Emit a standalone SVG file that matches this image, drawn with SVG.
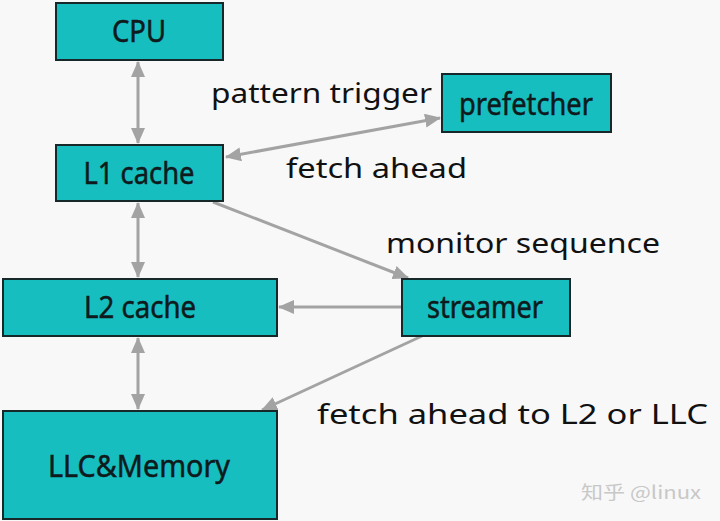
<svg xmlns="http://www.w3.org/2000/svg" width="720" height="521" viewBox="0 0 720 521">
<style>
.box{fill:#17bec0;stroke:#16282a;stroke-width:2}
.bl{font-family:"Noto Sans","Open Sans",sans-serif;font-size:30px;fill:#0e1a1c;stroke:#0e1a1c;stroke-width:0.5;text-anchor:middle}
.tx{font-family:"Noto Sans","Open Sans",sans-serif;font-size:28px;fill:#111}
.c{stroke:#a3a3a3;stroke-width:3;fill:none}
.wm{font-family:"Noto Sans CJK SC","Noto Sans",sans-serif;font-size:18px;fill:#c8c8c8}
</style>
<defs>
<marker id="ah" markerUnits="userSpaceOnUse" markerWidth="16" markerHeight="14" refX="15" refY="7" orient="auto-start-reverse" viewBox="0 0 16 14">
<path d="M0,0 L16,7 L0,14 z" fill="#a3a3a3"/>
</marker>
</defs>
<rect width="720" height="521" fill="#f8f8f8"/>
<g id="connectors">
<line class="c" x1="138" y1="62" x2="138" y2="143" marker-start="url(#ah)" marker-end="url(#ah)"/>
<line class="c" x1="138" y1="203" x2="138" y2="277" marker-start="url(#ah)" marker-end="url(#ah)"/>
<line class="c" x1="138" y1="338" x2="138" y2="409" marker-start="url(#ah)" marker-end="url(#ah)"/>
<line class="c" x1="226" y1="157" x2="440" y2="118" marker-start="url(#ah)" marker-end="url(#ah)"/>
<line class="c" x1="213" y1="202" x2="408" y2="278" marker-end="url(#ah)"/>
<line class="c" x1="402" y1="307" x2="279" y2="307" marker-end="url(#ah)"/>
<line class="c" x1="422" y1="336" x2="262" y2="410" marker-end="url(#ah)"/>
</g>
<g id="cpu"><rect class="box" x="56" y="3" width="167" height="57"/><text class="bl" x="139" y="42" textLength="54" lengthAdjust="spacingAndGlyphs">CPU</text></g>
<g id="l1"><rect class="box" x="56" y="145" width="167" height="56"/><text class="bl" x="139" y="184" textLength="111" lengthAdjust="spacingAndGlyphs">L1 cache</text></g>
<g id="prefetcher"><rect class="box" x="442" y="74" width="169" height="58"/><text class="bl" x="526" y="115" textLength="134" lengthAdjust="spacingAndGlyphs">prefetcher</text></g>
<g id="l2"><rect class="box" x="3" y="279" width="274" height="57"/><text class="bl" x="140" y="318" textLength="112" lengthAdjust="spacingAndGlyphs">L2 cache</text></g>
<g id="streamer"><rect class="box" x="402" y="279" width="168" height="57"/><text class="bl" x="485" y="318" textLength="116" lengthAdjust="spacingAndGlyphs">streamer</text></g>
<g id="llc"><rect class="box" x="3" y="411" width="274" height="108"/><text class="bl" x="139" y="477" textLength="182" lengthAdjust="spacingAndGlyphs">LLC&amp;Memory</text></g>
<text class="tx" x="211" y="103" textLength="221" lengthAdjust="spacingAndGlyphs">pattern trigger</text>
<text class="tx" x="286" y="178" textLength="181" lengthAdjust="spacingAndGlyphs">fetch ahead</text>
<text class="tx" x="386" y="253" textLength="274" lengthAdjust="spacingAndGlyphs">monitor sequence</text>
<text class="tx" x="317" y="424" textLength="391" lengthAdjust="spacingAndGlyphs">fetch ahead to L2 or LLC</text>
<text class="wm" x="581" y="499" textLength="120" lengthAdjust="spacingAndGlyphs">知乎 @linux</text>
</svg>
